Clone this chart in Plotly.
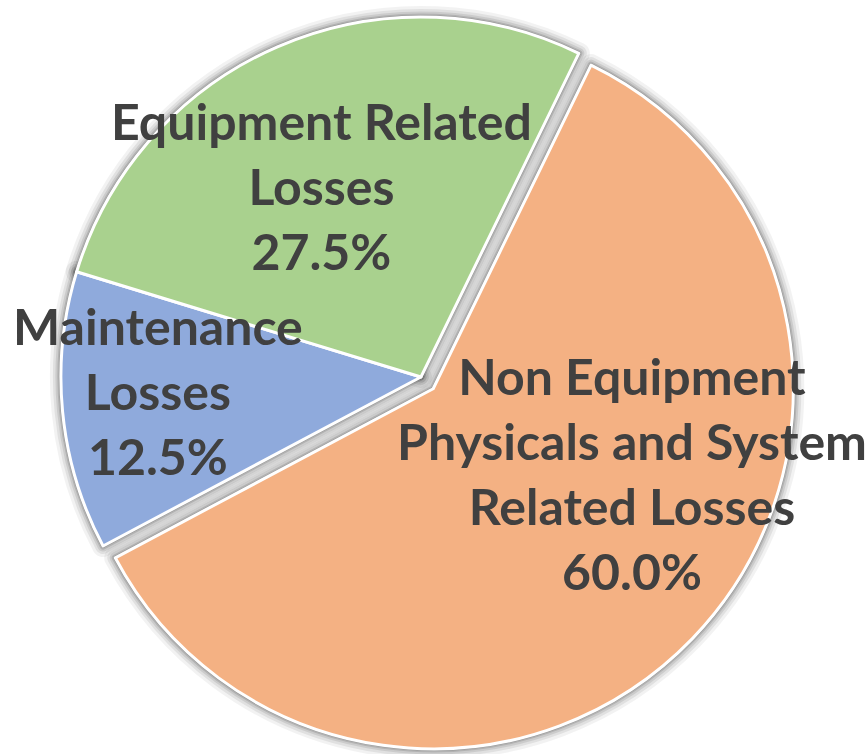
import plotly.graph_objects as go

labels = ["Non Equipment Physicals and System Related Losses",
          "Maintenance Losses",
          "Equipment Related Losses"]
label_lines = ["Non Equipment<br>Physicals and System<br>Related Losses",
               "Maintenance<br>Losses",
               "Equipment Related<br>Losses"]
values = [60.0, 12.5, 27.5]
colors = ["#F4B183", "#8FAADC", "#A9D18E"]
pulls = [0.047, 0, 0]

total = sum(values)
pcts = [v / total * 100 for v in values]

DOMAIN = dict(x=[0, 0.97], y=[0, 1])
ROT = 26

fig = go.Figure()

# soft shadow layers
for w, a in [(22, 0.05), (16, 0.07), (11, 0.09), (7, 0.12), (4, 0.16)]:
    fig.add_trace(go.Pie(
        labels=labels, values=values, sort=False, direction="clockwise",
        rotation=ROT, pull=pulls, domain=DOMAIN, textinfo="none",
        hoverinfo="skip", showlegend=False,
        marker=dict(colors=["rgba(0,0,0,0)"] * 3,
                    line=dict(color=f"rgba(0,0,0,{a})", width=w)),
    ))

fig.add_trace(go.Pie(
    labels=labels, values=values, sort=False, direction="clockwise",
    rotation=ROT, pull=pulls, domain=DOMAIN, textinfo="none",
    showlegend=False,
    marker=dict(colors=colors, line=dict(color="white", width=3)),
))

# label positions (paper coordinates)
ann_x = [632 / 868, 158 / 868, 321 / 868]
ann_y = [1 - 473 / 754, 1 - 391 / 754, 1 - 186 / 754]

for i in range(len(labels)):
    fig.add_annotation(
        x=ann_x[i], y=ann_y[i], xref="paper", yref="paper",
        xanchor="center", yanchor="middle", showarrow=False,
        text=f"{label_lines[i]}<br>{pcts[i]:.1f}%",
        font=dict(family="Lato", size=50, color="#404040", weight="bold"),
        align="center",
    )

fig.update_layout(
    width=868, height=754,
    margin=dict(l=0, r=0, t=0, b=0),
    paper_bgcolor="white", plot_bgcolor="white",
    showlegend=False,
)

fig.write_html("out.html", config={"displayModeBar": False},
               post_script="document.body.style.margin='0px';")
